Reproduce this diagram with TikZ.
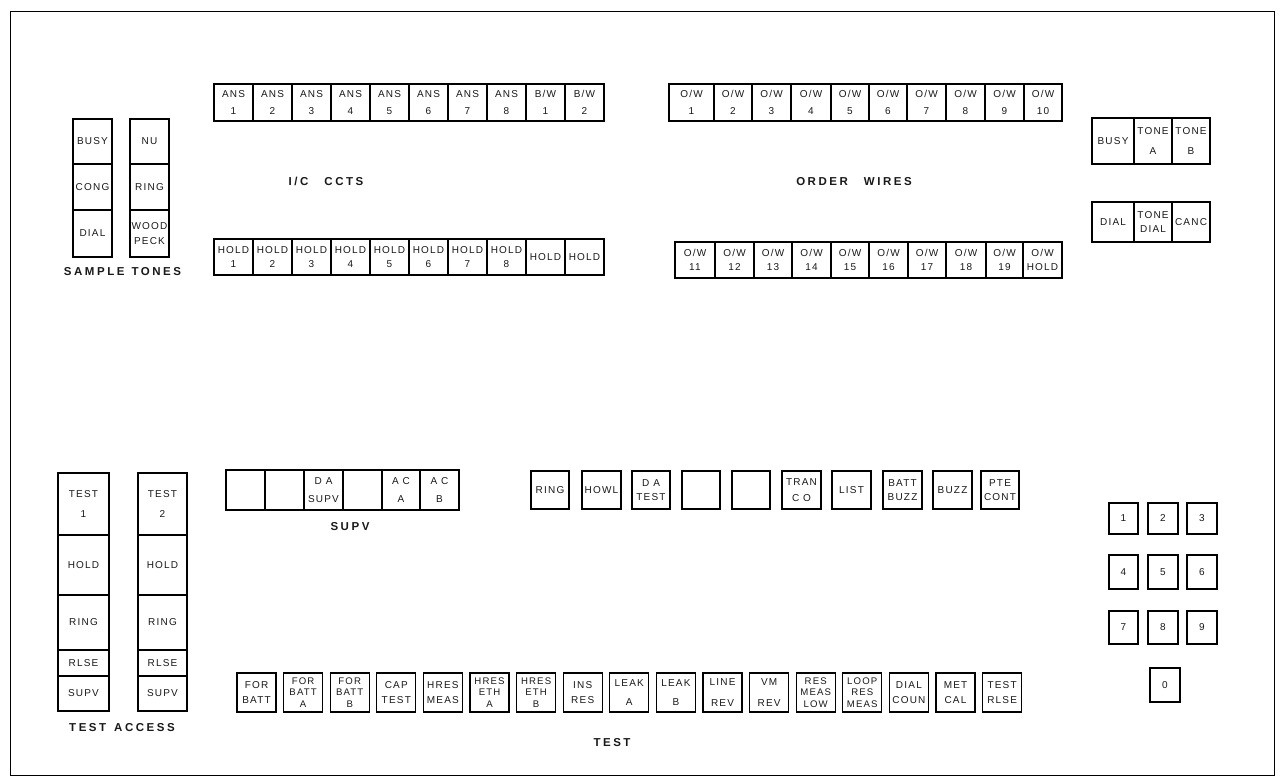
\documentclass[tikz,border=0pt]{standalone}
\usepackage{fontspec}
\setmainfont{Liberation Sans}
\newfontfamily\btnfam[LetterSpace=12]{Liberation Sans}
\newfontfamily\lblfam[LetterSpace=22]{Liberation Sans}
\newcommand\pb[7][]{\node[btn,#1,minimum width={(#5-#3)*1pt},minimum height={(#6-#4)*1pt}] (#2) at ({(#3+#5)/2},{(#4+#6)/2}) {#7};}
\begin{document}
\begin{tikzpicture}[x=1pt,y=-1pt,
  btn/.style={draw=black,line width=1.2pt,inner sep=0pt,align=center,text=black!90,
    font=\btnfam\fontsize{10}{14.5}\selectfont},
  tri/.style={font=\btnfam\fontsize{9.6}{11.8}\selectfont},
  lbl/.style={inner sep=0pt,text=black!90,font=\lblfam\bfseries\fontsize{11.5}{13}\selectfont}]
\useasboundingbox (0,0) rectangle (1281,781);
\fill[white] (0,0) rectangle (1281,781);
\draw[line width=1pt] (10,12) rectangle (1274,775);

% sample tones
\pb{busy}{73}{119}{112}{164}{BUSY}
\pb{cong}{73}{164}{112}{210}{CONG}
\pb{dial}{73}{210}{112}{257}{DIAL}
\pb{nu}{130}{119}{169}{164}{NU}
\pb{ringt}{130}{164}{169}{210}{RING}
\pb{wood}{130}{210}{169}{257}{WOOD\\PECK}
\node[lbl] (lsample) at (122.5,272) {SAMPLE\hspace{7pt}TONES};

% I/C circuits
\foreach \i [evaluate=\i as \xa using 214+39*(\i-1), evaluate=\i as \xb using 214+39*\i] in {1,...,8}
  {\pb{ans\i}{\xa}{84}{\xb}{121}{ANS\\[3pt]\i}}
\pb{bw1}{526}{84}{565}{121}{B/W\\[3pt]1}
\pb{bw2}{565}{84}{604}{121}{B/W\\[3pt]2}
\foreach \i [evaluate=\i as \xa using 214+39*(\i-1), evaluate=\i as \xb using 214+39*\i] in {1,...,8}
  {\pb{hold\i}{\xa}{239}{\xb}{275}{HOLD\\\i}}
\pb{hold9}{526}{239}{565}{275}{HOLD}
\pb{hold10}{565}{239}{604}{275}{HOLD}
\node[lbl] (licc) at (326,181) {I/C\hspace{16pt}CCTS};

% order wires
\foreach \a/\b/\n in {669/714/1,714/752/2,752/791/3,791/831/4,831/869/5,869/907/6,907/946/7,946/985/8,985/1024/9,1024/1062/10}
  {\pb{ow\n}{\a}{84}{\b}{121}{O/W\\[3pt]\n}}
\foreach \a/\b/\n in {675/715/11,715/754/12,754/792/13,792/831/14,831/869/15,869/908/16,908/946/17,946/986/18,986/1023/19}
  {\pb{ow\n}{\a}{242}{\b}{278}{O/W\\\n}}
\pb{owhold}{1023}{242}{1062}{278}{O/W\\HOLD}
\node[lbl] (low) at (854,182) {ORDER\hspace{16pt}WIRES};

% right panel
\pb{rbusy}{1092}{118}{1134}{164}{BUSY}
\pb{tonea}{1134}{118}{1172}{164}{TONE\\[6pt]A}
\pb{toneb}{1172}{118}{1210}{164}{TONE\\[6pt]B}
\pb{rdial}{1092}{202}{1134}{242}{DIAL}
\pb{tdial}{1134}{202}{1172}{242}{TONE\\DIAL}
\pb{canc}{1172}{202}{1210}{242}{CANC}

% test access
\pb{testa}{58}{473}{109}{535}{TEST\\[6pt]1}
\pb{holda}{58}{535}{109}{595}{HOLD}
\pb{ringa}{58}{595}{109}{650}{RING}
\pb{rlsea}{58}{650}{109}{676}{RLSE}
\pb{supva}{58}{676}{109}{711}{SUPV}
\pb{testb}{138}{473}{187}{535}{TEST\\[6pt]2}
\pb{holdb}{138}{535}{187}{595}{HOLD}
\pb{ringb}{138}{595}{187}{650}{RING}
\pb{rlseb}{138}{650}{187}{676}{RLSE}
\pb{supvb}{138}{676}{187}{711}{SUPV}
\node[lbl] (lta) at (122,728) {TEST\hspace{8pt}ACCESS};

% supv row
\pb{s1}{226}{470}{265}{510}{}
\pb{s2}{265}{470}{304}{510}{}
\pb{s3}{304}{470}{343}{510}{D A\\[3pt]SUPV}
\pb{s4}{343}{470}{382}{510}{}
\pb{s5}{382}{470}{420}{510}{A C\\[3pt]A}
\pb{s6}{420}{470}{459}{510}{A C\\[3pt]B}
\node[lbl] (lsupv) at (350,527) {SUPV};

% ring row
\pb{r1}{531}{471}{569}{509}{RING}
\pb{r2}{582}{471}{621}{509}{HOWL}
\pb{r3}{632}{471}{670}{509}{D A\\TEST}
\pb{r4}{682}{471}{720}{509}{}
\pb{r5}{732}{471}{770}{509}{}
\pb{r6}{782}{471}{821}{509}{TRAN\\[2pt]C O}
\pb{r7}{832}{471}{871}{509}{LIST}
\pb{r8}{883}{471}{922}{509}{BATT\\BUZZ}
\pb{r9}{933}{471}{972}{509}{BUZZ}
\pb{r10}{981}{471}{1019}{509}{PTE\\CONT}

% keypad
\pb{k1}{1109}{503}{1138}{534}{1}
\pb{k2}{1148}{503}{1178}{534}{2}
\pb{k3}{1187}{503}{1217}{534}{3}
\pb{k4}{1109}{555}{1138}{589}{4}
\pb{k5}{1148}{555}{1178}{589}{5}
\pb{k6}{1187}{555}{1217}{589}{6}
\pb{k7}{1109}{611}{1138}{644}{7}
\pb{k8}{1148}{611}{1178}{644}{8}
\pb{k9}{1187}{611}{1217}{644}{9}
\pb{k0}{1150}{668}{1180}{702}{0}

% test row
\foreach \i/\t/\s in {0/{FOR\\BATT}/btn, 1/{FOR\\BATT\\A}/tri, 2/{FOR\\BATT\\B}/tri, 3/{CAP\\TEST}/btn,
   4/{HRES\\MEAS}/btn, 5/{HRES\\ETH\\A}/tri, 6/{HRES\\ETH\\B}/tri, 7/{INS\\RES}/btn,
   8/{LEAK\\[4pt]A}/btn, 9/{LEAK\\[4pt]B}/btn, 10/{LINE\\[6pt]REV}/btn, 11/{VM\\[6pt]REV}/btn,
   12/{RES\\MEAS\\LOW}/tri, 13/{LOOP\\RES\\MEAS}/tri, 14/{DIAL\\COUN}/btn, 15/{MET\\CAL}/btn, 16/{TEST\\RLSE}/btn}
{
  \pgfmathsetmacro\xa{237+46.6*\i}
  \pgfmathsetmacro\xb{\xa+39}
  \pb[\s]{t\i}{\xa}{673}{\xb}{712}{\t}
}
\node[lbl] (ltest) at (612,743) {TEST};
\end{tikzpicture}
\end{document}
